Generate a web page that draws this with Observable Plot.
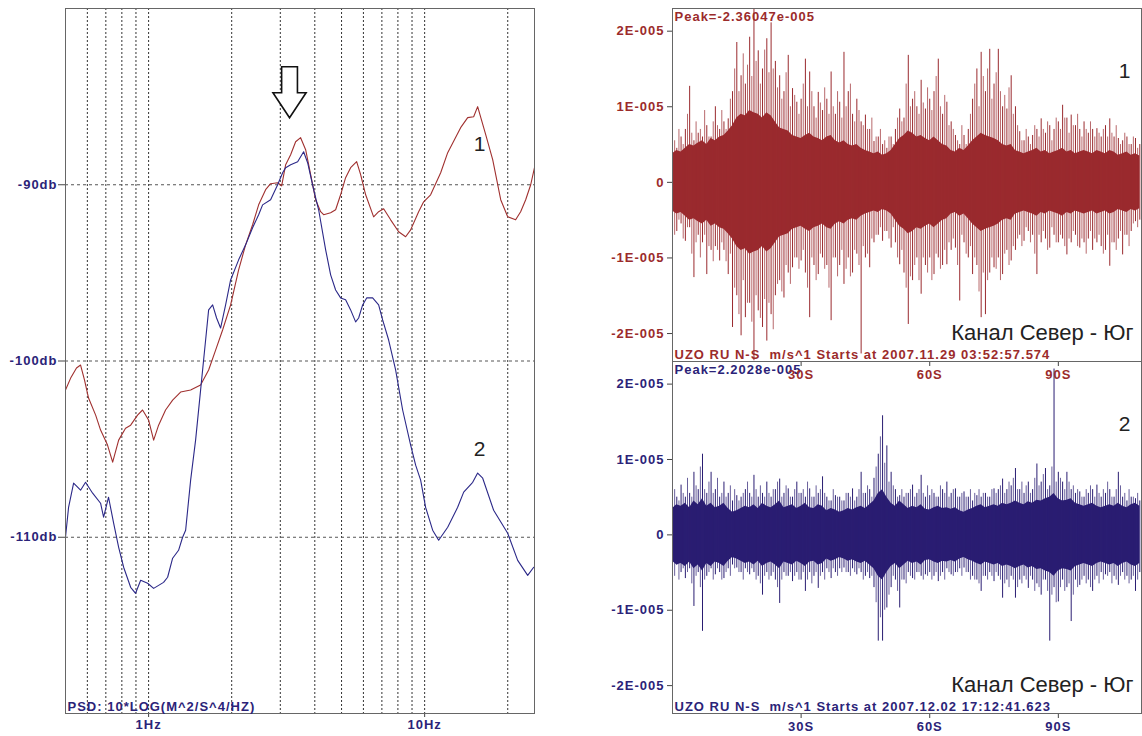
<!DOCTYPE html>
<html>
<head>
<meta charset="utf-8">
<script src="https://cdn.jsdelivr.net/npm/d3@7"></script>
<script src="https://cdn.jsdelivr.net/npm/@observablehq/plot@0.6"></script>
<style>
  html, body { margin: 0; padding: 0; background: #fff; }
  #wrap { position: relative; width: 1142px; height: 736px; overflow: hidden; background: #fff; }
  #wrap > div { position: absolute; }
  #wrap svg { letter-spacing: 1px; }
  #wrap svg g.big { letter-spacing: 0; }
</style>
</head>
<body>
<div id="wrap">
  <div id="psd" style="left:0;top:0"></div>
  <div id="wave2" style="left:590px;top:361px"></div>
  <div id="wave1" style="left:590px;top:0"></div>
</div>
<script>
// ---------------- PSD data (left) ----------------
const psdFreq1 = [0.500,0.522,0.548,0.567,0.586,0.606,0.643,0.670,0.710,0.741,
  0.779,0.825,0.861,0.912,0.951,1.0,1.043,1.087,1.152,1.222,
  1.306,1.420,1.543,1.650,1.749,1.854,1.982,2.119,2.246,2.381,
  2.504,2.654,2.767,2.934,3.034,3.137,3.270,3.409,3.554,3.706,
  3.864,4.028,4.200,4.306,4.565,4.759,4.961,5.172,5.393,5.671,
  5.863,6.113,6.534,6.813,7.103,7.530,8.050,8.534,8.898,9.511,
  9.917,10.51,11.43,12.12,13.50,14.32,15.05,15.56,16.64,17.64,
  18.86,19.99,21.36,22.27,23.23,24.22,25.0];
const psdDb1 = [-101.65,-100.97,-100.40,-100.23,-101.08,-102.10,-103.07,-103.92,-104.77,-105.74,
  -104.49,-103.81,-103.64,-103.07,-102.78,-103.35,-104.49,-103.64,-102.78,-102.22,
  -101.76,-101.65,-101.36,-100.51,-99.38,-98.24,-96.82,-94.83,-93.41,-92.27,
  -91.14,-90.28,-89.94,-89.89,-90.06,-88.86,-88.30,-87.56,-87.33,-88.01,
  -89.43,-90.85,-91.53,-91.70,-91.59,-91.42,-90.57,-89.60,-89.03,-88.69,
  -89.43,-90.57,-91.82,-91.53,-91.36,-91.99,-92.67,-92.95,-92.56,-91.53,
  -90.97,-90.57,-89.32,-88.18,-86.76,-86.19,-86.14,-85.57,-87.16,-88.58,
  -90.85,-91.82,-91.99,-91.53,-90.85,-90.0,-89.03];
const psdFreq2 = [0.500,0.513,0.535,0.567,0.591,0.627,0.670,0.687,0.716,0.747,
  0.779,0.812,0.861,0.897,0.936,0.992,1.043,1.133,1.172,1.222,
  1.284,1.328,1.362,1.420,1.480,1.543,1.609,1.650,1.706,1.763,
  1.823,1.901,1.982,2.119,2.246,2.381,2.504,2.588,2.767,2.934,
  3.059,3.137,3.270,3.467,3.644,3.768,3.962,4.130,4.379,4.565,
  4.759,4.961,5.172,5.393,5.623,5.766,5.962,6.165,6.480,6.813,
  7.044,7.406,7.850,8.323,8.898,9.276,9.672,10.08,10.69,11.24,
  12.12,13.17,13.85,14.93,15.56,16.23,17.78,19.99,21.73,23.62,
  24.83];
const psdDb2 = [-110.0,-108.30,-106.93,-107.33,-106.88,-107.5,-108.07,-108.86,-107.73,-109.20,
  -110.57,-111.70,-112.84,-113.18,-112.44,-112.61,-112.90,-112.56,-112.27,-111.19,
  -110.74,-110.0,-109.60,-106.76,-104.49,-101.65,-98.81,-97.10,-96.82,-97.56,
  -98.13,-96.82,-95.40,-94.26,-93.41,-92.44,-91.70,-91.14,-90.85,-90.0,
  -89.32,-89.03,-88.86,-88.69,-88.13,-88.75,-90.28,-91.42,-93.69,-95.11,
  -95.97,-96.42,-96.53,-97.10,-97.78,-97.56,-96.82,-96.42,-96.42,-96.82,
  -97.67,-98.81,-100.51,-102.78,-104.77,-105.91,-106.76,-108.30,-109.60,-110.17,
  -109.43,-108.30,-107.44,-106.88,-106.36,-106.65,-108.47,-109.77,-111.31,-112.16,
  -111.70];
const gridFreqs = [0.6,0.7,0.8,0.9,1,2,3,4,5,6,7,8,9,10,20];
const hzTicks = [1, 10];
const hzTickLabels = ["1Hz", "10Hz"];
const dbTicks = [-90, -100, -110];
const psdCaption = "PSD: 10*LOG(M^2/S^4/HZ)";
const psdCurveLabels = [{freq: 15.8, db: -87.7, text: "1"}, {freq: 15.8, db: -105.0, text: "2"}];
const arrowMark = [{freq: 3.24, db: -84.75}];

// ---------------- Waveform data (right), amplitude in units of 1E-005 ----------------
const waveTicks = [-2, -1, 0, 1, 2];
const waveTickLabels = ["-2E-005", "-1E-005", "0", "1E-005", "2E-005"];
const timeTicks = [30, 60, 90];
const timeTickLabels = ["30S", "60S", "90S"];
// per-second largest upward / downward spike (at t)
const topHi = [0.5,0.45,0.6,0.7,1.27,0.55,0.65,0.6,0.75,0.6,
  1.0,0.7,0.8,0.84,1.2,1.85,1.41,1.3,1.92,2.29,
  1.74,1.5,1.9,2.11,1.6,1.41,1.2,1.68,1.24,1.06,
  1.1,1.63,1.46,1.0,1.19,0.95,1.1,1.46,0.9,1.06,
  1.72,1.2,0.9,1.1,0.8,0.89,0.7,0.54,0.6,0.5,
  0.45,0.6,0.7,0.97,0.85,1.68,1.1,1.0,1.35,0.97,
  1.1,1.2,1.63,0.9,1.06,0.8,0.62,0.5,0.62,0.7,
  1.1,1.5,1.72,1.2,1.76,1.3,1.76,1.0,0.97,1.41,
  1.0,0.67,0.55,0.6,0.62,0.7,0.84,0.65,0.75,0.7,
  0.8,1.02,0.85,0.89,0.75,0.7,0.8,0.65,0.7,0.71,
  0.6,0.75,0.84,0.6,0.58,0.55,0.6,0.5,0.58,0.5];
const topLo = [-0.5,-0.65,-0.55,-0.78,-0.6,-1.26,-0.7,-0.8,-1.22,-0.9,
  -0.85,-1.04,-0.9,-1.22,-1.92,-1.5,-2.03,-1.79,-1.6,-2.36,
  -1.7,-1.92,-2.1,-1.75,-1.5,-1.3,-1.53,-1.2,-1.13,-1.0,
  -1.04,-1.2,-1.79,-1.1,-1.22,-1.0,-1.1,-1.83,-1.0,-1.1,
  -1.35,-1.0,-1.2,-0.95,-2.27,-1.0,-1.13,-0.8,-0.7,-0.78,
  -0.65,-0.87,-0.8,-1.09,-1.2,-1.88,-1.3,-1.0,-1.48,-1.1,
  -1.0,-1.22,-1.0,-1.1,-1.09,-0.9,-0.87,-1.57,-0.8,-1.0,
  -1.22,-1.1,-1.79,-1.75,-1.2,-1.13,-1.0,-1.22,-0.9,-1.04,
  -0.9,-0.7,-0.78,-0.65,-0.7,-1.22,-0.8,-0.75,-0.87,-0.7,
  -0.8,-0.75,-0.96,-0.8,-0.7,-0.87,-0.8,-0.75,-0.9,-0.8,
  -0.85,-0.9,-1.11,-0.8,-0.75,-0.96,-0.7,-0.65,-0.52,-0.5];
// per-second secondary spikes (at t + 0.5 s)
const topHi2 = [0.55,0.7,0.5,0.9,0.65,0.8,0.7,0.95,0.6,0.8,
  0.75,0.95,0.7,1.1,1.5,1.2,1.7,1.55,1.4,1.6,
  1.3,1.75,1.45,1.5,1.25,1.1,1.45,1.0,1.15,0.9,
  1.3,1.0,1.2,0.85,1.05,1.25,0.9,1.0,1.2,0.85,
  1.0,1.3,0.8,0.95,0.75,0.7,0.85,0.6,0.7,0.55,
  0.6,0.5,0.85,0.8,1.3,1.0,1.2,0.9,1.05,1.25,
  0.95,1.4,1.0,1.15,0.75,0.7,0.55,0.75,0.5,0.9,
  1.3,1.0,1.4,1.5,1.1,1.45,1.2,1.15,1.25,0.9,
  0.75,0.55,0.7,0.5,0.75,0.6,0.7,0.8,0.55,0.85,
  0.7,0.85,0.65,0.75,0.9,0.6,0.7,0.8,0.6,0.65,
  0.7,0.6,0.65,0.75,0.5,0.65,0.5,0.6,0.45,0.55];
const topLo2 = [-0.7,-0.5,-0.75,-0.6,-0.95,-0.8,-1.0,-0.7,-0.85,-1.05,
  -0.9,-0.8,-1.05,-0.95,-1.4,-1.75,-1.3,-1.6,-1.85,-1.5,
  -1.8,-1.55,-1.6,-1.95,-1.35,-1.45,-1.1,-1.35,-1.0,-1.15,
  -0.9,-1.4,-1.0,-1.3,-0.95,-1.15,-1.4,-1.0,-1.25,-0.9,
  -1.15,-1.25,-0.9,-1.1,-0.85,-0.95,-0.75,-0.7,-0.6,-0.65,
  -0.75,-0.6,-1.0,-0.9,-1.4,-1.25,-1.1,-1.3,-1.0,-1.2,
  -1.3,-0.95,-1.15,-0.9,-0.8,-0.75,-1.1,-0.7,-0.95,-0.85,
  -1.0,-1.45,-1.2,-1.3,-1.0,-1.15,-1.3,-0.95,-1.1,-0.85,
  -0.75,-0.85,-0.6,-0.8,-0.95,-0.7,-0.65,-0.9,-0.6,-0.8,
  -0.7,-0.85,-0.75,-0.65,-0.85,-0.75,-0.95,-0.65,-0.75,-0.7,
  -0.95,-0.7,-0.8,-0.9,-0.65,-0.7,-0.85,-0.55,-0.6,-0.55];
// per-second half-width of the dense (solid) band
const topCore = [0.38,0.42,0.40,0.45,0.50,0.48,0.52,0.55,0.50,0.58,
  0.55,0.60,0.62,0.68,0.75,0.85,0.90,0.88,0.95,0.92,
  0.90,0.85,0.92,0.88,0.80,0.72,0.70,0.68,0.62,0.60,
  0.58,0.62,0.65,0.60,0.58,0.55,0.60,0.62,0.55,0.52,
  0.55,0.50,0.48,0.50,0.45,0.42,0.40,0.38,0.40,0.36,
  0.38,0.42,0.50,0.58,0.62,0.68,0.65,0.60,0.62,0.58,
  0.55,0.60,0.55,0.50,0.48,0.42,0.40,0.45,0.42,0.48,
  0.55,0.60,0.65,0.62,0.60,0.58,0.55,0.50,0.48,0.50,
  0.42,0.40,0.38,0.40,0.42,0.45,0.40,0.42,0.38,0.40,
  0.42,0.45,0.40,0.42,0.38,0.40,0.42,0.40,0.38,0.42,
  0.40,0.38,0.42,0.40,0.36,0.38,0.40,0.36,0.38,0.35];
const botHi = [0.4,0.5,0.66,0.5,0.55,0.83,0.6,1.07,0.55,0.83,
  0.6,0.5,0.7,0.55,0.45,0.52,0.5,0.6,0.55,0.79,
  0.5,0.55,0.7,0.5,0.6,0.74,0.55,0.61,0.5,0.7,
  0.55,0.5,0.61,0.5,0.55,0.77,0.5,0.45,0.52,0.5,
  0.45,0.55,0.61,0.5,0.83,0.55,0.6,0.75,1.07,1.58,
  1.18,0.83,0.6,0.52,0.5,0.55,0.66,0.55,0.79,0.5,
  0.52,0.55,0.5,0.6,0.7,0.55,0.61,0.5,0.57,0.5,
  0.45,0.52,0.5,0.55,0.5,0.61,0.6,0.74,0.6,0.65,
  0.88,0.6,0.55,0.7,0.6,0.94,0.7,0.88,0.65,2.2,
  0.83,0.7,0.83,0.6,0.55,0.57,0.5,0.55,0.6,0.66,
  0.5,0.55,0.6,0.5,0.83,0.5,0.45,0.5,0.48,0.45];
const botLo = [-0.44,-0.4,-0.5,-0.58,-0.45,-0.95,-0.5,-1.28,-0.55,-0.45,
  -0.53,-0.5,-0.58,-0.45,-0.4,-0.44,-0.5,-0.45,-0.53,-0.5,
  -0.55,-0.8,-0.5,-0.55,-0.6,-0.91,-0.5,-0.55,-0.62,-0.5,
  -0.6,-0.75,-0.5,-0.55,-0.71,-0.5,-0.45,-0.58,-0.5,-0.45,
  -0.44,-0.5,-0.45,-0.53,-0.5,-0.55,-0.58,-0.7,-1.41,-1.41,
  -0.97,-0.7,-0.6,-0.97,-0.6,-0.5,-0.58,-0.5,-0.55,-0.53,
  -0.5,-0.55,-0.62,-0.5,-0.45,-0.53,-0.5,-0.45,-0.44,-0.5,
  -0.55,-0.6,-0.75,-0.55,-0.5,-0.62,-0.55,-0.84,-0.6,-0.55,
  -0.84,-0.6,-0.55,-0.71,-0.6,-0.65,-0.8,-0.6,-1.41,-0.7,
  -0.89,-0.6,-0.7,-1.15,-0.6,-0.67,-0.55,-0.6,-0.75,-0.55,
  -0.5,-0.53,-0.5,-0.55,-0.67,-0.5,-0.55,-0.6,-0.75,-0.5];
const botHi2 = [0.6,0.45,0.55,0.75,0.5,0.65,0.9,0.6,0.7,0.55,
  0.75,0.55,0.5,0.65,0.6,0.45,0.55,0.7,0.5,0.6,
  0.65,0.5,0.55,0.6,0.7,0.5,0.65,0.5,0.6,0.55,
  0.6,0.7,0.5,0.65,0.6,0.55,0.45,0.6,0.5,0.45,
  0.55,0.5,0.45,0.6,0.55,0.65,0.5,0.9,1.3,0.95,
  0.7,0.65,0.5,0.6,0.55,0.6,0.5,0.6,0.55,0.65,
  0.6,0.5,0.65,0.55,0.5,0.6,0.5,0.55,0.5,0.6,
  0.55,0.6,0.55,0.5,0.6,0.55,0.65,0.55,0.7,0.75,
  0.6,0.7,0.65,0.55,0.75,0.65,0.8,0.6,0.9,0.7,
  0.75,0.6,0.7,0.65,0.6,0.5,0.6,0.65,0.5,0.55,
  0.6,0.7,0.5,0.6,0.65,0.55,0.6,0.5,0.55,0.5];
const botLo2 = [-0.55,-0.6,-0.45,-0.5,-0.65,-0.55,-0.7,-0.6,-0.5,-0.6,
  -0.45,-0.6,-0.5,-0.55,-0.45,-0.5,-0.6,-0.5,-0.45,-0.6,
  -0.65,-0.55,-0.6,-0.5,-0.7,-0.6,-0.55,-0.5,-0.55,-0.6,
  -0.5,-0.6,-0.65,-0.5,-0.55,-0.6,-0.5,-0.45,-0.55,-0.5,
  -0.5,-0.55,-0.5,-0.45,-0.6,-0.5,-0.55,-0.9,-1.1,-1.0,
  -0.8,-0.55,-0.75,-0.6,-0.65,-0.55,-0.6,-0.5,-0.6,-0.55,
  -0.6,-0.5,-0.55,-0.6,-0.5,-0.55,-0.5,-0.55,-0.5,-0.6,
  -0.6,-0.65,-0.55,-0.6,-0.55,-0.5,-0.6,-0.65,-0.7,-0.6,
  -0.7,-0.65,-0.6,-0.55,-0.75,-0.7,-0.6,-0.75,-0.8,-0.9,
  -0.7,-0.75,-0.65,-0.8,-0.7,-0.6,-0.65,-0.7,-0.6,-0.65,
  -0.6,-0.55,-0.65,-0.6,-0.55,-0.6,-0.65,-0.55,-0.6,-0.5];
const botCore = [0.35,0.40,0.38,0.42,0.36,0.45,0.40,0.48,0.38,0.42,
  0.36,0.38,0.42,0.35,0.30,0.32,0.35,0.38,0.36,0.40,
  0.35,0.42,0.38,0.36,0.40,0.45,0.36,0.38,0.40,0.35,
  0.38,0.42,0.36,0.35,0.40,0.38,0.32,0.35,0.33,0.30,
  0.32,0.35,0.33,0.36,0.38,0.35,0.40,0.45,0.55,0.60,
  0.50,0.42,0.38,0.45,0.40,0.35,0.38,0.36,0.40,0.34,
  0.33,0.36,0.38,0.35,0.36,0.34,0.36,0.32,0.30,0.33,
  0.35,0.38,0.40,0.36,0.38,0.40,0.38,0.42,0.40,0.42,
  0.45,0.42,0.40,0.44,0.42,0.46,0.45,0.48,0.50,0.55,
  0.48,0.45,0.46,0.48,0.42,0.40,0.38,0.40,0.42,0.38,
  0.36,0.38,0.40,0.38,0.42,0.38,0.36,0.40,0.42,0.38];

const topInfo = {peak: "Peak=-2.36047e-005", header: "UZO RU N-S  m/s^1 Starts at 2007.11.29 03:52:57.574", channel: "Канал Север - Юг", id: "1"};
const botInfo = {peak: "Peak=2.2028e-005", header: "UZO RU N-S  m/s^1 Starts at 2007.12.02 17:12:41.623", channel: "Канал Север - Юг", id: "2"};

// ---------------- styles ----------------
const RED = "#9a2a2e", RED_TXT = "#9b2b2b", NAVY = "#2a1d72", NAVY_TXT = "#2b2378";
const PSD_RED = "#a0302f", PSD_BLUE = "#2b2888";
const FONT = "Liberation Sans, Arial, sans-serif";
const FS = 13;

// ---------------- PSD plot ----------------
const zip = (fs, ds) => fs.map((f, i) => ({freq: f, db: ds[i]}));
const psd1 = zip(psdFreq1, psdDb1), psd2 = zip(psdFreq2, psdDb2);

const hollowArrow = {
  draw(ctx, size) {
    const r = Math.sqrt(size / Math.PI);
    const sw = 0.31 * r, hw = 0.65 * r, hb = 0.02 * r;
    ctx.moveTo(-sw, -r); ctx.lineTo(sw, -r); ctx.lineTo(sw, hb); ctx.lineTo(hw, hb);
    ctx.lineTo(0, r); ctx.lineTo(-hw, hb); ctx.lineTo(-sw, hb); ctx.closePath();
  }
};

const psdPlot = Plot.plot({
  width: 545, height: 736,
  marginLeft: 65, marginRight: 11, marginTop: 8, marginBottom: 23,
  style: {fontFamily: FONT, background: "transparent", overflow: "visible"},
  x: {type: "log", domain: [0.5, 25]},
  y: {domain: [-120, -80]},
  marks: [
    Plot.ruleX(gridFreqs, {x: d => d, stroke: "#333", strokeDasharray: "2,2", strokeWidth: 1}),
    Plot.ruleY(dbTicks, {y: d => d, stroke: "#555", strokeDasharray: "3,3", strokeWidth: 1}),
    Plot.axisY(dbTicks, {anchor: "left", label: null, tickSize: 7, tickPadding: 1, tickFormat: d => d + "db",
      fill: NAVY_TXT, stroke: "#444", fontSize: FS, fontWeight: "bold"}),
    Plot.axisX(hzTicks, {anchor: "bottom", label: null, tickSize: 4, tickPadding: 2,
      tickFormat: d => hzTickLabels[hzTicks.indexOf(d)], fill: NAVY_TXT, stroke: "#444", fontSize: FS, fontWeight: "bold"}),
    Plot.line(psd1, {x: "freq", y: "db", stroke: PSD_RED, strokeWidth: 1.1}),
    Plot.line(psd2, {x: "freq", y: "db", stroke: PSD_BLUE, strokeWidth: 1.1}),
    Plot.frame({stroke: "#666"}),
    Plot.dot(arrowMark, {x: "freq", y: "db", r: 25.5, symbol: hollowArrow, fill: "white", stroke: "#111", strokeWidth: 1.6}),
    Plot.text(psdCurveLabels, {x: "freq", y: "db", text: "text", fontSize: 21, fill: "#222", className: "big"}),
    Plot.text([psdCaption], {frameAnchor: "bottom-left", dx: 2, dy: -3, fill: NAVY_TXT, fontSize: FS, fontWeight: "bold"})
  ]
});
document.getElementById("psd").append(psdPlot);

// ---------------- Waveform plots ----------------
const spikes = (hi, lo, offset) => hi.map((h, i) => ({t: i + offset, hi: h, lo: lo[i]}));
const band = (core) => core.map((c, i) => ({t: i, c}));

function wavePlot({hi, lo, hi2, lo2, core, color, txt, info, height, marginTop, marginBottom}) {
  return Plot.plot({
    width: 552, height, marginLeft: 82, marginRight: 1, marginTop, marginBottom,
    style: {fontFamily: FONT, background: "transparent", overflow: "visible"},
    x: {domain: [0, 109.4]},
    y: {domain: [-2.37, 2.30]},
    marks: [
      Plot.areaY(band(core), {x: "t", y1: d => -d.c, y2: "c", fill: color, clip: true}),
      Plot.ruleX(spikes(hi2, lo2, 0.5), {x: "t", y1: "lo", y2: "hi", stroke: color, strokeWidth: 1, strokeOpacity: 0.7, clip: true}),
      Plot.ruleX(spikes(hi, lo, 0), {x: "t", y1: "lo", y2: "hi", stroke: color, strokeWidth: 1, clip: true}),
      Plot.axisY(waveTicks, {anchor: "left", label: null, tickSize: 5, tickPadding: 3,
        tickFormat: d => waveTickLabels[waveTicks.indexOf(d)], fill: txt, stroke: "#444", fontSize: FS, fontWeight: "bold"}),
      Plot.axisX(timeTicks, {anchor: "bottom", label: null, tickSize: 5, tickPadding: 3,
        tickFormat: d => timeTickLabels[timeTicks.indexOf(d)], fill: txt, stroke: "#444", fontSize: FS, fontWeight: "bold"}),
      Plot.frame({stroke: "#666"}),
      Plot.text([info.peak], {frameAnchor: "top-left", dx: 2, dy: 3, fill: txt, fontSize: FS, fontWeight: "bold"}),
      Plot.text([info.header], {frameAnchor: "bottom-left", dx: 2, dy: -3, fill: txt, fontSize: FS, fontWeight: "bold"}),
      Plot.text([info.channel], {frameAnchor: "bottom-right", dx: -8, dy: -22, fill: "#222", fontSize: 22, className: "big"}),
      Plot.text([info.id], {frameAnchor: "top-right", dx: -11, dy: 55, fill: "#222", fontSize: 21, className: "big"})
    ]
  });
}

document.getElementById("wave2").append(wavePlot({hi: botHi, lo: botLo, hi2: botHi2, lo2: botLo2, core: botCore,
  color: NAVY, txt: NAVY_TXT, info: botInfo, height: 375, marginTop: 0, marginBottom: 23}));
document.getElementById("wave1").append(wavePlot({hi: topHi, lo: topLo, hi2: topHi2, lo2: topLo2, core: topCore,
  color: RED, txt: RED_TXT, info: topInfo, height: 390, marginTop: 8, marginBottom: 29}));
</script>
</body>
</html>
